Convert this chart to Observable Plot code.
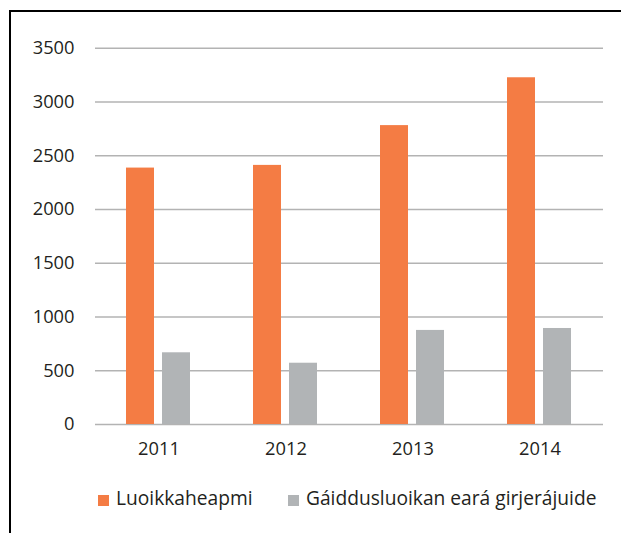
<!DOCTYPE html>
<html><head><meta charset="utf-8">
<script src="https://cdn.jsdelivr.net/npm/d3@7"></script>
<script src="https://cdn.jsdelivr.net/npm/@observablehq/plot@0.6"></script>
<style>
body{margin:0;background:#fff;width:621px;height:533px;overflow:hidden;position:relative;font-family:"Open Sans",sans-serif;}
#frame{position:absolute;left:9px;top:10px;width:640px;height:560px;border-left:2px solid #000;border-top:2px solid #000;}
#chart{position:absolute;left:0;top:0;}
.item{position:absolute;top:486px;display:flex;align-items:flex-start;font-size:19.2px;line-height:24px;color:#231f20;white-space:nowrap;}
.sw{width:11px;height:11px;margin-top:9px;margin-right:7px;}
</style></head>
<body>
<div id="frame"></div>
<div id="chart"></div>
<div id="legend"></div>
<script>
const years = ["2011", "2012", "2013", "2014"];
const seriesNames = ["Luoikkaheapmi", "Gáiddusluoikan eará girjerájuide"];
const luoikkaheapmi = [2385, 2410, 2780, 3225];
const gaiddusluoikan = [667, 570, 875, 893];
const yTicks = [0, 500, 1000, 1500, 2000, 2500, 3000, 3500];
const colors = ["#F47C44", "#B1B4B6"];

const rows = [];
years.forEach((y, i) => {
  rows.push({year: y, series: seriesNames[0], value: luoikkaheapmi[i]});
  rows.push({year: y, series: seriesNames[1], value: gaiddusluoikan[i]});
});

const chart = Plot.plot({
  width: 621,
  height: 470,
  marginTop: 47.7,
  marginBottom: 46,
  marginLeft: 94,
  marginRight: 17,
  style: {fontFamily: "'Open Sans', sans-serif", fontSize: "18.3px", color: "#231f20", background: "transparent"},
  facet: {data: rows, x: "year"},
  fx: {domain: years, padding: 0, axis: "bottom", label: null, tickSize: 0, tickPadding: 17},
  x: {domain: seriesNames, paddingInner: 0.22, paddingOuter: 0.87, axis: null},
  y: {domain: [0, 3500], ticks: yTicks, tickSize: 0, tickPadding: 21, label: null, tickFormat: d => String(d)},
  color: {domain: seriesNames, range: colors},
  marks: [
    Plot.ruleY(yTicks, {stroke: "#b3b3b3", strokeWidth: 1.6, facet: false}),
    Plot.barY(rows, {x: "series", y: "value", fill: "series"})
  ]
});
document.getElementById("chart").appendChild(chart);

const legend = document.getElementById("legend");
const lefts = [98, 288];
seriesNames.forEach((name, i) => {
  const it = document.createElement("div");
  it.className = "item";
  it.style.left = lefts[i] + "px";
  const sw = document.createElement("div");
  sw.className = "sw";
  sw.style.background = colors[i];
  const t = document.createElement("span");
  t.textContent = name;
  it.appendChild(sw); it.appendChild(t);
  legend.appendChild(it);
});
</script>
</body></html>
